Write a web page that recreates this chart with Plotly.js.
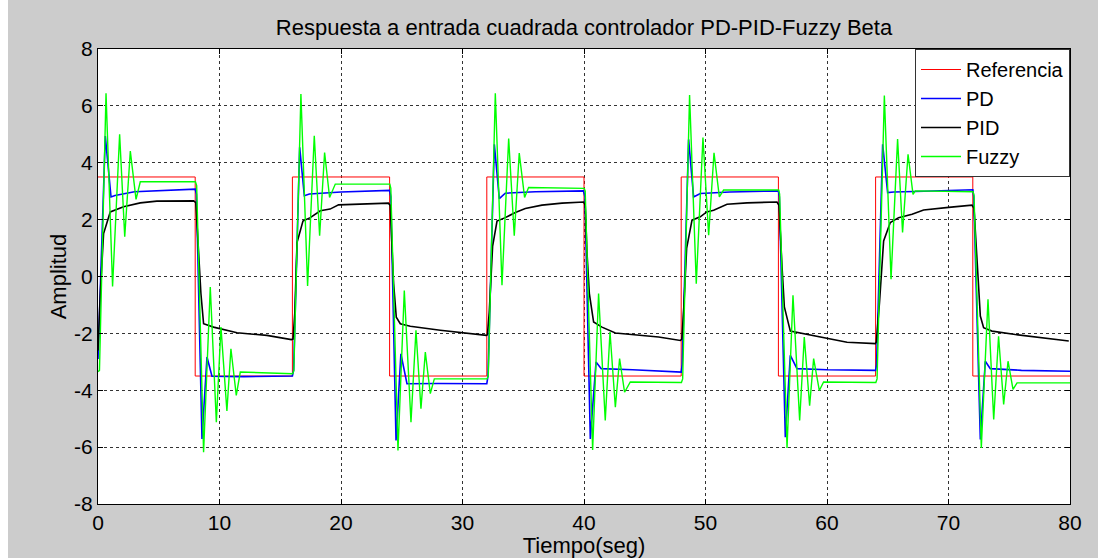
<!DOCTYPE html>
<html>
<head>
<meta charset="utf-8">
<script src="https://cdn.plot.ly/plotly-3.0.1.min.js"></script>
<style>
  html, body { margin: 0; padding: 0; background: #ffffff; }
  #chart { position: absolute; left: 8px; top: 0; width: 1090px; height: 558px; }
</style>
</head>
<body>
<div id="chart"></div>
<script>
// ---- Data ----
const chartTitle = 'Respuesta a entrada cuadrada controlador PD-PID-Fuzzy Beta';
const xTitle = 'Tiempo(seg)';
const yTitle = 'Amplitud';
const seriesNames = ['Referencia', 'PD', 'PID', 'Fuzzy'];
const xTickVals = [0, 10, 20, 30, 40, 50, 60, 70, 80];
const yTickVals = [-8, -6, -4, -2, 0, 2, 4, 6, 8];

const refT = [0, 8, 16, 24, 32, 40, 48, 56, 64, 72, 80];
const refY = [3.5, -3.5, 3.5, -3.5, 3.5, -3.5, 3.5, -3.5, 3.5, -3.5, -3.5];

const pdT = [0, 0.6, 1.07, 1.4, 3.0, 5.5, 8.0,
  8.1, 8.56, 8.97, 9.38, 12, 16.0,
  16.1, 16.6, 16.98, 17.4, 20, 24.0,
  24.1, 24.53, 24.93, 25.13, 25.43, 28, 32.0,
  32.1, 32.62, 33.03, 33.52, 36, 39.95,
  40.08, 40.52, 40.99, 41.42, 44, 48.0,
  48.08, 48.61, 49.02, 49.57, 52, 56.0,
  56.08, 56.57, 56.98, 57.53, 60, 64.0,
  64.08, 64.58, 64.99, 65.5, 68, 72.0,
  72.08, 72.62, 73.03, 73.44, 76, 80];
const pdY = [-2.9, 4.94, 2.80, 2.85, 2.98, 3.03, 3.07,
  2.9, -5.71, -2.83, -3.51, -3.52, -3.5,
  -3.3, 4.54, 2.84, 2.9, 2.97, 3.03,
  2.8, -5.77, -2.72, -3.19, -3.77, -3.76, -3.77,
  -3.5, 4.65, 2.74, 2.93, 2.98, 3.01,
  2.8, -5.71, -3.01, -3.24, -3.28, -3.36,
  -3.1, 4.82, 2.8, 2.92, 2.97, 3.01,
  2.8, -5.65, -2.77, -3.24, -3.28, -3.3,
  -3.1, 4.65, 2.95, 2.97, 3.0, 3.05,
  2.8, -5.73, -2.98, -3.24, -3.3, -3.33];

const pidT = [0, 0.2, 0.46, 1.01, 2.1, 3.48, 4.84, 7.87, 8.05,
  8.28, 8.47, 8.69, 9.51, 11.44, 13.9, 15.91,
  16.05, 16.2, 16.38, 16.87, 17.47, 18.3, 19.1, 19.8, 21.6, 23.9, 24.05,
  24.33, 24.55, 24.88, 25.7, 28.17, 31.96,
  32.05, 32.2, 32.48, 32.84, 33.52, 34.35, 35.17, 36.54, 38.19, 39.97,
  40.1, 40.25, 40.44, 40.79, 41.48, 42.58, 43.67, 46.14, 47.93,
  48.05, 48.2, 48.45, 48.89, 49.57, 50.1, 50.67, 51.77, 53.42, 55.88,
  56.05, 56.3, 56.49, 56.98, 58.07, 59.45, 61.65, 63.98,
  64.06, 64.32, 64.66, 65.21, 65.89, 67.0, 67.95, 70.01, 71.93,
  72.1, 72.43, 72.62, 72.89, 73.58, 75.5, 77.7, 79.9];
const pidY = [-2.6, -0.5, 1.51, 2.27, 2.45, 2.59, 2.65, 2.66, 2.6,
  0.81, -0.6, -1.66, -1.78, -1.98, -2.07, -2.22,
  -2.2, -1.27, 1.19, 1.95, 2.07, 2.31, 2.37, 2.52, 2.55, 2.58, 2.5,
  -0.25, -1.43, -1.66, -1.75, -1.89, -2.07,
  -2.05, -1.27, 1.07, 1.95, 2.07, 2.25, 2.39, 2.51, 2.58, 2.62,
  2.5, 0.81, -0.6, -1.6, -1.78, -1.99, -2.04, -2.13, -2.25,
  -2.2, -1.2, 1.0, 1.98, 2.1, 2.27, 2.33, 2.54, 2.59, 2.62,
  2.5, 0.33, -1.07, -1.92, -2.01, -2.13, -2.31, -2.36,
  -2.3, -0.92, 1.25, 1.9, 2.07, 2.19, 2.34, 2.43, 2.51,
  2.4, -0.21, -1.39, -1.8, -1.92, -2.04, -2.15, -2.27];

const fuzzyT = [0, 0.12, 0.66, 1.2, 1.78, 2.2, 2.66, 3.13, 3.48, 8.02,
  8.12, 8.69, 9.24, 9.74, 10.12, 10.61, 10.94, 11.38, 11.71, 16.02,
  16.12, 16.7, 17.25, 17.8, 18.24, 18.65, 19.06, 19.53, 24.02,
  24.1, 24.69, 25.21, 25.76, 26.17, 26.58, 26.94, 27.35, 27.68, 32.02,
  32.12, 32.7, 33.25, 33.8, 34.26, 34.67, 35.11, 35.44, 40.02,
  40.1, 40.71, 41.2, 41.75, 42.14, 42.58, 42.93, 43.34, 43.81, 48.02,
  48.12, 48.69, 49.24, 49.79, 50.26, 50.7, 51.14, 51.49, 56.02,
  56.1, 56.71, 57.2, 57.75, 58.13, 58.57, 58.9, 59.37, 59.72, 64.02,
  64.12, 64.72, 65.27, 65.81, 66.22, 66.67, 67.08, 67.27, 72.02,
  72.1, 72.7, 73.25, 73.72, 74.12, 74.54, 74.9, 75.31, 75.64, 80];
const fuzzyY = [-3.35, -3.3, 6.44, -0.35, 5.0, 1.4, 4.41, 2.71, 3.33, 3.33,
  3.2, -6.18, -0.37, -5.12, -1.78, -4.73, -2.54, -4.18, -3.36, -3.42,
  -3.3, 6.42, -0.33, 4.95, 1.43, 4.36, 2.78, 3.25, 3.25,
  3.1, -6.12, -0.49, -5.12, -1.89, -4.65, -2.66, -4.12, -3.6, -3.6,
  -3.5, 6.44, -0.31, 4.85, 1.43, 4.34, 2.78, 3.13, 3.1,
  3.0, -6.1, -0.6, -5.06, -1.95, -4.6, -2.89, -4.07, -3.71, -3.73,
  -3.6, 6.38, -0.25, 4.89, 1.45, 4.35, 2.8, 3.04, 3.04,
  2.9, -6.03, -0.66, -5.06, -2.13, -4.54, -2.89, -4.01, -3.71, -3.73,
  -3.6, 6.36, -0.1, 4.83, 1.55, 4.3, 2.89, 3.01, 2.98,
  2.85, -6.03, -0.8, -5.03, -2.1, -4.5, -2.98, -3.97, -3.74, -3.74];

const FONT = 'Arial, "Liberation Sans", sans-serif';

const traces = [
  {x: refT, y: refY, name: seriesNames[0], mode: 'lines', line: {color: '#ff0000', width: 1, shape: 'hv'}},
  {x: pdT, y: pdY, name: seriesNames[1], mode: 'lines', line: {color: '#0000ff', width: 1.6}},
  {x: pidT, y: pidY, name: seriesNames[2], mode: 'lines', line: {color: '#000000', width: 1.6}},
  {x: fuzzyT, y: fuzzyY, name: seriesNames[3], mode: 'lines', line: {color: '#00ff00', width: 1.4}}
];

const axisCommon = {
  showline: true, linecolor: '#000', linewidth: 1, mirror: 'ticks',
  ticks: 'inside', ticklen: 5, tickcolor: '#000',
  showgrid: true, gridcolor: '#333', griddash: 'dot', gridwidth: 1,
  zeroline: false, tickfont: {family: FONT, size: 21, color: '#000'}
};

const layout = {
  width: 1090, height: 558,
  paper_bgcolor: '#cccccc', plot_bgcolor: '#ffffff',
  margin: {l: 90, r: 28, t: 49, b: 54},
  font: {family: FONT, color: '#000'},
  title: {text: chartTitle, font: {family: FONT, size: 22, color: '#000'},
          x: 0.5, xref: 'paper', y: 1 - 27 / 558, yref: 'container', yanchor: 'middle'},
  xaxis: Object.assign({}, axisCommon, {
    range: [0, 80], tickvals: xTickVals, ticktext: xTickVals.map(String),
    title: {text: xTitle, font: {family: FONT, size: 22, color: '#000'}, standoff: 0}
  }),
  yaxis: Object.assign({}, axisCommon, {
    range: [-8, 8], tickvals: yTickVals, ticktext: yTickVals.map(String),
    title: {text: yTitle, font: {family: FONT, size: 22, color: '#000'}, standoff: 1}
  }),
  showlegend: true,
  legend: {x: 1, xanchor: 'right', y: 1, yanchor: 'top', bgcolor: '#ffffff', itemwidth: 40,
           bordercolor: '#333', borderwidth: 1, font: {family: FONT, size: 20, color: '#000'}}
};

Plotly.newPlot('chart', traces, layout, {displayModeBar: false, staticPlot: true});
</script>
</body>
</html>
